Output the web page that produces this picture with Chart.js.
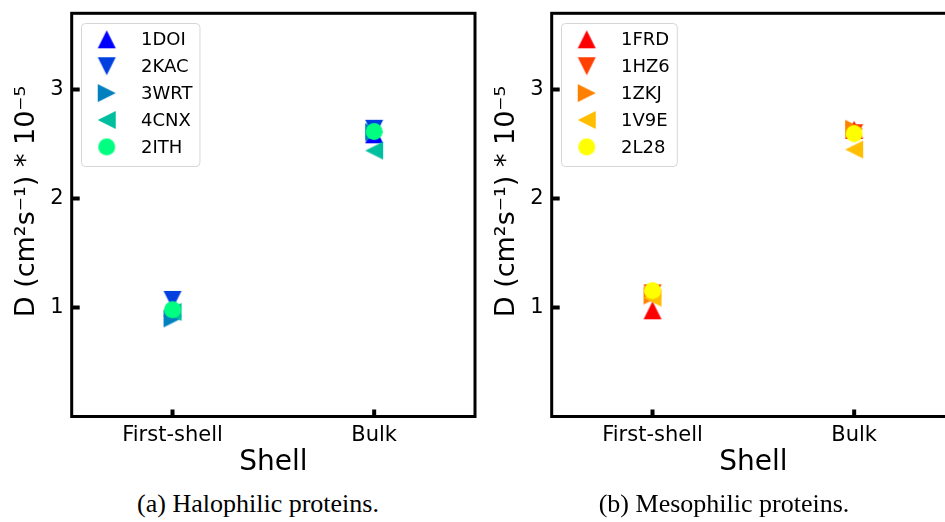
<!DOCTYPE html>
<html>
<head>
<meta charset="utf-8">
<script src="https://cdn.jsdelivr.net/npm/chart.js@4.4.1/dist/chart.umd.min.js"></script>
<style>
html,body{margin:0;padding:0;background:#fff;overflow:hidden;width:945px;height:522px;position:relative}
.panel{position:absolute;top:0;width:490px;height:485px}
.cap{position:absolute;top:489px;font:26px "Liberation Serif","Times New Roman",serif;white-space:nowrap;transform:translateX(-50%);color:#000}
</style>
</head>
<body>
<div class="panel" style="left:0"><canvas id="c1" width="490" height="485"></canvas></div>
<div class="panel" style="left:480px"><canvas id="c2" width="490" height="485"></canvas></div>
<div class="cap" style="left:258px">(a) Halophilic proteins.</div>
<div class="cap" style="left:724px">(b) Mesophilic proteins.</div>
<script>
/* ---------- data ---------- */
const categories=['First-shell','Bulk'];
const yTicks=[1,2,3];
const yMax=3.7;

// halophilic (winter colormap)
const haloNames=['1DOI','2KAC','3WRT','4CNX','2ITH'];
const haloColors=['#0000ff','#0040df','#0080bf','#00bf9f','#00ff80'];
const d1DOI=[1.00,2.59];
const d2KAC=[1.07,2.64];
const d3WRT=[0.90,2.61];
const d4CNX=[0.96,2.44];
const d2ITH=[0.98,2.615];

// mesophilic (autumn colormap)
const mesoNames=['1FRD','1HZ6','1ZKJ','1V9E','2L28'];
const mesoColors=['#ff0000','#ff4000','#ff8000','#ffbf00','#ffff00'];
const d1FRD=[0.975,2.63];
const d1HZ6=[1.13,2.60];
const d1ZKJ=[1.11,2.64];
const d1V9E=[1.09,2.45];
const d2L28=[1.155,2.595];

const shapes=['up','down','right','left','circle'];

/* ---------- matplotlib-like markers ---------- */
function marker(kind,color){
const s=kind==='circle'?17:18;
const c=document.createElement('canvas');
c.width=c.height=s+2;
const g=c.getContext('2d');
const m=(s+2)/2,h=s/2;
g.fillStyle=color;
g.beginPath();
if(kind==='circle'){
g.arc(m,m,h,0,Math.PI*2);
}else{
const pts={up:[[0,-1],[-1,1],[1,1]],down:[[0,1],[-1,-1],[1,-1]],
right:[[1,0],[-1,-1],[-1,1]],left:[[-1,0],[1,-1],[1,1]]}[kind];
pts.forEach(([x,y],i)=>i?g.lineTo(m+x*h,m+y*h):g.moveTo(m+x*h,m+y*h));
g.closePath();
}
g.fill();
return c;
}

/* ---------- frame, inward ticks, boxed legend ---------- */
const frame={
id:'frame',
afterDatasetsDraw(chart){
const {ctx,chartArea:a,scales:{x,y}}=chart;
ctx.save();
ctx.strokeStyle='#000';
ctx.lineWidth=3;
ctx.strokeRect(a.left,a.top,a.right-a.left,a.bottom-a.top);
ctx.lineWidth=4;
ctx.beginPath();
x.ticks.forEach((t,i)=>{const px=x.getPixelForTick(i);ctx.moveTo(px,a.bottom);ctx.lineTo(px,a.bottom-7);});
y.ticks.forEach((t,i)=>{const py=y.getPixelForTick(i);ctx.moveTo(a.left,py);ctx.lineTo(a.left+8,py);});
ctx.stroke();

// legend
ctx.font='18px "DejaVu Sans"';
const sets=chart.data.datasets;
const tw=Math.max(...sets.map(d=>ctx.measureText(d.label).width));
const lx=a.left+9.3,ly=a.top+9.7;
const textX=a.left+69.3;
const w=textX-lx+tw+7,h=143;
ctx.beginPath();
ctx.roundRect(lx+0.5,ly+0.5,w,h,4);
ctx.fillStyle='rgba(255,255,255,0.8)';
ctx.fill();
ctx.lineWidth=1;
ctx.strokeStyle='#d6d6d6';
ctx.stroke();
ctx.fillStyle='#000';
ctx.textBaseline='middle';
ctx.textAlign='left';
sets.forEach((d,i)=>{
const cy=ly+16.3+i*26.9;
const img=d.pointStyle;
ctx.drawImage(img,a.left+35-img.width/2,cy-img.height/2);
ctx.fillText(d.label,textX,cy+1);
});
ctx.restore();
}
};

function makeChart(id,names,colors,series){
const datasets=names.map((n,i)=>({
label:n,
data:series[i],
pointStyle:marker(shapes[i],colors[i]),
pointRadius:9,
pointHoverRadius:9,
showLine:false,
order:names.length-i
}));
const font={family:'DejaVu Sans',size:21};
return new Chart(document.getElementById(id),{
type:'line',
data:{labels:categories,datasets},
options:{
responsive:false,
animation:false,
events:[],
layout:{padding:{top:13.3,right:15,left:0,bottom:0}},
plugins:{legend:{display:false},tooltip:{enabled:false}},
scales:{
x:{
type:'category',
offset:true,
grid:{display:false,drawTicks:false},
border:{display:false},
ticks:{color:'#000',font,padding:6,maxRotation:0},
title:{display:true,text:'Shell',color:'#000',font:{family:'DejaVu Sans',size:28},padding:{top:0,bottom:5}},
afterFit:s=>{s.height=68.5;s.paddingLeft=0;s.paddingRight=0;}
},
y:{
min:0,
max:yMax,
afterBuildTicks:s=>{s.ticks=yTicks.map(v=>({value:v}));},
grid:{display:false,drawTicks:false},
border:{display:false},
ticks:{color:'#000',font,padding:8},
title:{display:true,text:'\u2003D (cm²s⁻¹) * 10⁻⁵',color:'#000',font:{family:'DejaVu Sans',size:27},padding:{top:11,bottom:0}},
afterFit:s=>{s.width=71.7;s.paddingTop=0;s.paddingBottom=0;}
}
}
},
plugins:[frame]
});
}

makeChart('c1',haloNames,haloColors,[d1DOI,d2KAC,d3WRT,d4CNX,d2ITH]);
makeChart('c2',mesoNames,mesoColors,[d1FRD,d1HZ6,d1ZKJ,d1V9E,d2L28]);
</script>
</body>
</html>
